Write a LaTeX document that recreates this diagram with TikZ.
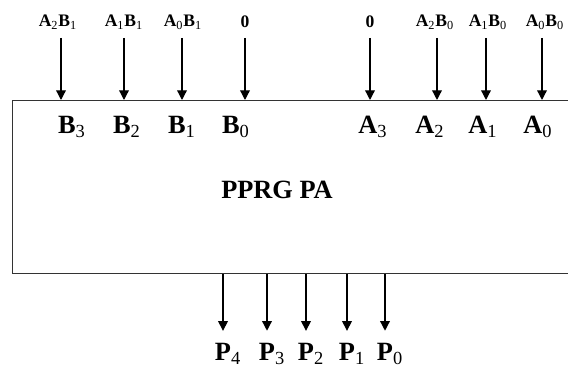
\documentclass[tikz,border=0pt]{standalone}
\usepackage{fontspec}
\setmainfont{Liberation Serif}
\usepackage{tikz}
\usetikzlibrary{arrows.meta}

\newcommand{\sbs}[1]{\textsubscript{\mdseries #1}}

\begin{document}
\begin{tikzpicture}[x=0.02cm,y=-0.02cm,>={Triangle[width=5.5pt,length=5.5pt]},
    sig/.style={->,line width=0.75pt},
    inlab/.style={font=\fontsize{10}{12}\selectfont\bfseries,inner sep=1pt},
    pin/.style={font=\fontsize{15}{18}\selectfont\bfseries,inner sep=1pt},
    box/.style={draw=black!80,line width=0.8pt,inner sep=0pt}]

    \path[use as bounding box,clip] (0,0) rectangle (568,367);

    % the block
    \node[box,anchor=north west,minimum width=11.4cm,minimum height=3.46cm] (ppa) at (12,100) {};
    \node[pin] (name) at (277,190) {PPRG PA};

    % inputs on top
    \node[inlab] (a2b1) at (58,22) {A\sbs{2}B\sbs{1}};
    \node[inlab] (a1b1) at (124,22) {A\sbs{1}B\sbs{1}};
    \node[inlab] (a0b1) at (183,22) {A\sbs{0}B\sbs{1}};
    \node[inlab] (zb) at (245,22) {0};
    \node[inlab] (za) at (370,22) {0};
    \node[inlab] (a2b0) at (435,22) {A\sbs{2}B\sbs{0}};
    \node[inlab] (a1b0) at (488,22) {A\sbs{1}B\sbs{0}};
    \node[inlab] (a0b0) at (545,22) {A\sbs{0}B\sbs{0}};

    \coordinate (t1) at (61,38);
    \coordinate (t2) at (124,38);
    \coordinate (t3) at (182,38);
    \coordinate (t4) at (245,38);
    \coordinate (t5) at (370,38);
    \coordinate (t6) at (437,38);
    \coordinate (t7) at (486,38);
    \coordinate (t8) at (542,38);
    \foreach \t in {t1,t2,t3,t4,t5,t6,t7,t8}
        \draw[sig] (\t) -- (\t |- ppa.north);

    % port names inside
    \node[pin] (b3) at (72,127) {B\sbs{3}};
    \node[pin] (b2) at (127,127) {B\sbs{2}};
    \node[pin] (b1) at (182,127) {B\sbs{1}};
    \node[pin] (b0) at (236,127) {B\sbs{0}};
    \node[pin] (a3) at (373,127) {A\sbs{3}};
    \node[pin] (a2) at (430,127) {A\sbs{2}};
    \node[pin] (a1) at (483,127) {A\sbs{1}};
    \node[pin] (a0) at (538,127) {A\sbs{0}};

    % outputs below
    \node[pin] (p4) at (223,354) {P\rlap{\sbs{4}}};
    \node[pin] (p3) at (267,354) {P\rlap{\sbs{3}}};
    \node[pin] (p2) at (306,354) {P\rlap{\sbs{2}}};
    \node[pin] (p1) at (347,354) {P\rlap{\sbs{1}}};
    \node[pin] (p0) at (385,354) {P\rlap{\sbs{0}}};

    \foreach \p in {p4,p3,p2,p1,p0}
        \draw[sig] (\p |- ppa.south) -- ([yshift=6pt]\p.north);

\end{tikzpicture}
\end{document}
